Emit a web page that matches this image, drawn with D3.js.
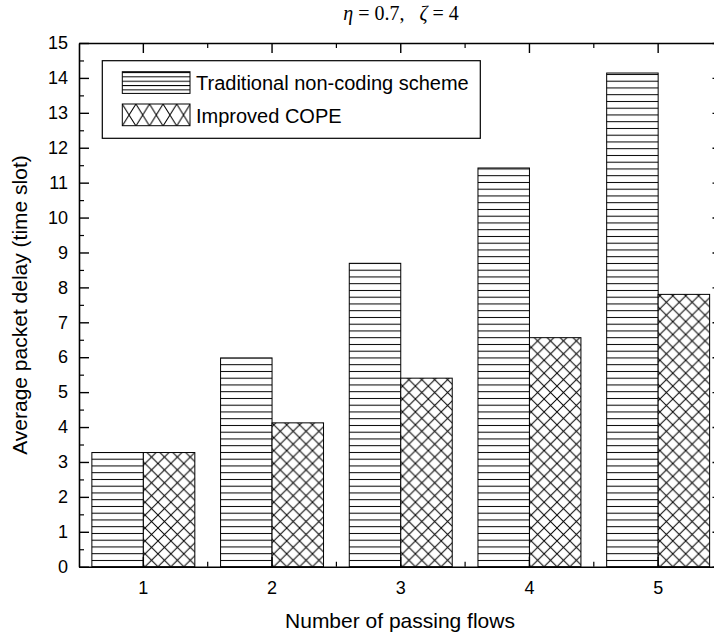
<!DOCTYPE html>
<html><head><meta charset="utf-8">
<script src="https://cdn.jsdelivr.net/npm/d3@7"></script>
<style>body{margin:0;background:#fff}svg{display:block}</style>
</head><body>
<script>
const categories = ["1","2","3","4","5"];
const seriesNames = ["Traditional non-coding scheme","Improved COPE"];
const traditional = [3.27, 5.98, 8.69, 11.42, 14.14];
const improved = [3.27, 4.12, 5.40, 6.56, 7.80];
const yTicks = d3.range(0, 16, 1);

(function(){
const W = 714, H = 643;
const m = {left: 79, top: 43, right: 722.5, bottom: 566.7};
const svg = d3.select("body").append("svg").attr("width", W).attr("height", H);
const defs = svg.append("defs");

const ph = defs.append("pattern").attr("id","hz").attr("patternUnits","userSpaceOnUse")
  .attr("width", 10).attr("height", 6.75).attr("y", 566.7);
ph.append("rect").attr("width",10).attr("height",6.75).attr("fill","#fff");
ph.append("line").attr("x1",0).attr("x2",10).attr("y1",0.5).attr("y2",0.5).attr("stroke","#000").attr("stroke-width",1);
const phl = defs.append("pattern").attr("id","hzl").attr("patternUnits","userSpaceOnUse")
  .attr("width", 10).attr("height", 4.35).attr("y", 72);
phl.append("rect").attr("width",10).attr("height",4.35).attr("fill","#fff");
phl.append("line").attr("x1",0).attr("x2",10).attr("y1",0.5).attr("y2",0.5).attr("stroke","#000").attr("stroke-width",1);
{
  const w=12.9,h=12.9;
  const p = defs.append("pattern").attr("id","xh").attr("patternUnits","userSpaceOnUse")
    .attr("width", w).attr("height", h).attr("x", 79).attr("y", 566.7);
  p.append("rect").attr("width",w).attr("height",h).attr("fill","#fff");
  p.append("path").attr("d",`M0,0L${w},${h}M${w},0L0,${h}`)
    .attr("stroke","#000").attr("stroke-width",1).attr("fill","none");
  const w2=13.6,h2=22;
  const q = defs.append("pattern").attr("id","xhl").attr("patternUnits","userSpaceOnUse")
    .attr("width", w2).attr("height", h2).attr("x", 122.3).attr("y", 104);
  q.append("rect").attr("width",w2).attr("height",h2).attr("fill","#fff");
  q.append("path").attr("d",`M0,0L${w2},${h2}M${w2},0L0,${h2}`)
    .attr("stroke","#000").attr("stroke-width",1).attr("fill","none");
}

const x0 = d3.scaleBand().domain(categories).range([m.left, m.right]).padding(0);
const bw = x0.bandwidth();
const x1 = d3.scaleBand().domain(seriesNames).range([0.1*bw, 0.9*bw]);
const y = d3.scaleLinear().domain([0, 15]).range([m.bottom, m.top]);

const data = categories.map((c,i)=>({c, vals:[{s:seriesNames[0], v:traditional[i]},{s:seriesNames[1], v:improved[i]}]}));
const fills = {[seriesNames[0]]:"url(#hz)", [seriesNames[1]]:"url(#xh)"};

svg.append("g").selectAll("g.grp").data(data).join("g").attr("class","grp")
  .attr("transform", d=>`translate(${x0(d.c)},0)`)
  .selectAll("rect").data(d=>d.vals).join("rect")
  .attr("x", d=>x1(d.s)).attr("width", x1.bandwidth())
  .attr("y", d=>y(d.v)).attr("height", d=>y(0)-y(d.v))
  .attr("fill", d=>fills[d.s]).attr("stroke","#000").attr("stroke-width",1);

const font = "Arial, 'Liberation Sans', sans-serif";
const axStyle = sel => { sel.select(".domain").attr("stroke","#000").attr("stroke-width",1.6);
  sel.selectAll(".tick line").attr("stroke","#000").attr("stroke-width",1.4);
  sel.selectAll("text").attr("font-family",font).attr("fill","#000"); };

const yMinor = d3.range(0.5, 15, 1);
const leftAx = svg.append("g").attr("transform",`translate(${m.left},0)`)
  .call(d3.axisLeft(y).tickValues(yTicks).tickFormat(d3.format("d")).tickSizeInner(-10).tickSizeOuter(0).tickPadding(11));
leftAx.call(axStyle); leftAx.selectAll("text").attr("font-size",18);
svg.append("g").attr("transform",`translate(${m.left},0)`)
  .call(d3.axisLeft(y).tickValues(yMinor).tickFormat("").tickSize(-5)).call(s=>s.select(".domain").remove())
  .selectAll("line").attr("stroke","#000").attr("stroke-width",1.2);
const rightAx = svg.append("g").attr("transform",`translate(${m.right},0)`)
  .call(d3.axisRight(y).tickValues(yTicks).tickFormat("").tickSizeInner(-10).tickSizeOuter(0));
rightAx.call(axStyle);
const bottomAx = svg.append("g").attr("transform",`translate(0,${m.bottom})`)
  .call(d3.axisBottom(x0).tickSizeInner(-10).tickSizeOuter(0).tickPadding(15));
bottomAx.call(axStyle); bottomAx.selectAll("text").attr("font-size",18);
const topAx = svg.append("g").attr("transform",`translate(0,${m.top})`)
  .call(d3.axisTop(x0).tickSizeInner(-10).tickSizeOuter(0).tickFormat(""));
topAx.call(axStyle);
const edges = categories.slice(1).map(c=>x0(c));
[[m.top,1],[m.bottom,-1]].forEach(([yy,dir])=>{
  svg.append("g").selectAll("line").data(edges).join("line")
    .attr("x1",d=>d).attr("x2",d=>d).attr("y1",yy).attr("y2",yy+dir*5)
    .attr("stroke","#000").attr("stroke-width",1.2);
});

svg.append("text").attr("x", 400).attr("y", 628).attr("text-anchor","middle")
  .attr("font-family",font).attr("font-size",21).text("Number of passing flows");
svg.append("text").attr("transform","translate(27,305) rotate(-90)").attr("text-anchor","middle")
  .attr("font-family",font).attr("font-size",21).text("Average packet delay (time slot)");

const t = svg.append("text").attr("x", 401).attr("y", 20).attr("text-anchor","middle")
  .style("white-space","pre")
  .attr("font-family","'Liberation Serif', 'Times New Roman', serif").attr("font-size",20);
t.append("tspan").attr("font-style","italic").text("η");
t.append("tspan").text(" = 0.7,   ");
t.append("tspan").attr("font-style","italic").text("ζ");
t.append("tspan").text(" = 4");

const lg = svg.append("g");
lg.append("rect").attr("x",102.3).attr("y",60.7).attr("width",378).attr("height",77.6)
  .attr("fill","#fff").attr("stroke","#000").attr("stroke-width",1.2);
const legFills = ["url(#hzl)","url(#xhl)"];
const legY = [71.7, 104];
seriesNames.forEach((s,i)=>{
  lg.append("rect").attr("x",122.3).attr("y",legY[i]).attr("width",67.7).attr("height",21.7)
    .attr("fill",legFills[i]).attr("stroke","#000").attr("stroke-width",1);
  lg.append("text").attr("x",196).attr("y",legY[i]+18.5)
    .attr("font-family",font).attr("font-size",20).text(s);
});
})();
</script>
</body></html>
